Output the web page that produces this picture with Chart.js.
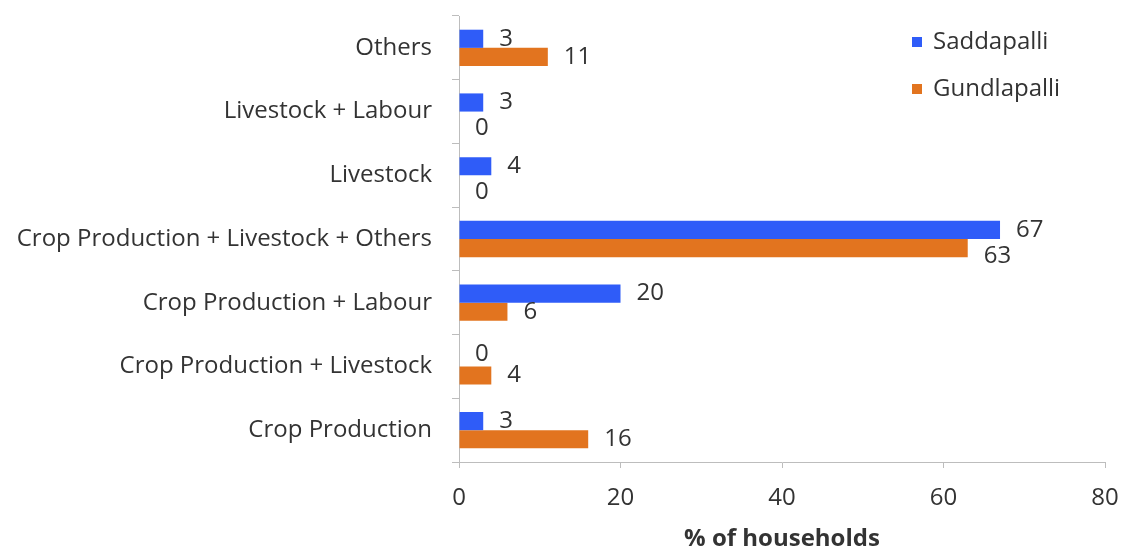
<!DOCTYPE html>
<html><head><meta charset="utf-8">
<script src="https://cdn.jsdelivr.net/npm/chart.js@4.4.0/dist/chart.umd.min.js"></script>
<style>html,body{margin:0;padding:0;background:#fff}#wrap{width:1121px;height:550px}</style>
</head><body><div id="wrap"><canvas id="c" width="1121" height="550"></canvas></div>
<script>
const categories = ["Others","Livestock + Labour","Livestock","Crop Production + Livestock + Others","Crop Production + Labour","Crop Production + Livestock","Crop Production"];
const saddapalli = [3,3,4,67,20,0,3];
const gundlapalli = [11,0,0,63,6,4,16];
const xTicks = [0,20,40,60,80];
const seriesNames = ["Saddapalli","Gundlapalli"];
const axisTitle = "% of households";

const FONT = "'Open Sans', sans-serif";
const FS = 24;
const TXT = "#333333";
const BLUE = "#2f5cf8";
const ORANGE = "#e2741f";

function orangeGrad(ctx){
  const c = ctx.chart;
  const el = ctx.element;
  if(!el || !c.chartArea) return ORANGE;
  const y = el.y, h = el.height;
  if(!Number.isFinite(y) || !Number.isFinite(h) || h <= 0) return ORANGE;
  const g = c.ctx.createLinearGradient(0, y - h/2, 0, y + h/2);
  g.addColorStop(0, "#ee8a35");
  g.addColorStop(0.5, "#e2741f");
  g.addColorStop(1, "#b95d17");
  return g;
}

// value labels with simple collision avoidance (like Excel's label placement)
const labelPlugin = {
  id:'vals',
  afterDatasetsDraw(chart){
    const ctx = chart.ctx;
    ctx.save();
    ctx.font = FS + "px " + FONT;
    ctx.fillStyle = TXT;
    ctx.textAlign = 'left';
    ctx.textBaseline = 'middle';
    const m0 = chart.getDatasetMeta(0), m1 = chart.getDatasetMeta(1);
    const d0 = chart.data.datasets[0].data, d1 = chart.data.datasets[1].data;
    const MIN_SEP = 26;
    for(let i = 0; i < categories.length; i++){
      const e0 = m0.data[i], e1 = m1.data[i];
      const t0 = String(d0[i]), t1 = String(d1[i]);
      const x0 = e0.x + 16, x1 = e1.x + 16;
      let y0 = e0.y, y1 = e1.y;
      const w0 = ctx.measureText(t0).width, w1 = ctx.measureText(t1).width;
      const hOverlap = x0 < x1 + w1 + 20 && x1 < x0 + w0 + 20;
      if(hOverlap && (y1 - y0) < MIN_SEP){
        const need = MIN_SEP - (y1 - y0);
        if(d0[i] === 0 && d1[i] !== 0) y0 -= need * 0.4;
        else y1 += need;
      }
      ctx.fillText(t0, x0, y0);
      ctx.fillText(t1, x1, y1);
    }
    ctx.restore();
  }
};

const legendPlugin = {
  id:'customLegend',
  afterDraw(chart){
    const ctx = chart.ctx;
    ctx.save();
    ctx.font = FS + "px " + FONT;
    ctx.textBaseline = 'middle';
    ctx.textAlign = 'left';
    chart.data.datasets.forEach((ds, di) => {
      const y = 42 + di * 47;
      ctx.fillStyle = di === 0 ? BLUE : ORANGE;
      ctx.fillRect(912, y - 5, 10, 10);
      ctx.fillStyle = TXT;
      ctx.fillText(ds.label, 933, y);
    });
    ctx.restore();
  }
};

new Chart(document.getElementById('c'), {
  type:'bar',
  data:{
    labels: categories,
    datasets:[
      {label: seriesNames[0], data: saddapalli, backgroundColor: BLUE, barPercentage:1, categoryPercentage:0.57},
      {label: seriesNames[1], data: gundlapalli, backgroundColor: orangeGrad, barPercentage:1, categoryPercentage:0.57}
    ]
  },
  options:{
    indexAxis:'y',
    responsive:false,
    animation:false,
    devicePixelRatio:1,
    layout:{padding:{top:16,right:16,left:0,bottom:0}},
    plugins:{legend:{display:false}, tooltip:{enabled:false}},
    scales:{
      x:{
        min:0, max:80,
        afterBuildTicks(s){ s.ticks = xTicks.map(v=>({value:v})); },
        afterFit(s){ s.height = 88; s.paddingLeft = 0; s.paddingRight = 0; },
        grid:{drawOnChartArea:false, drawTicks:true, tickLength:6, color:'#bdbdbd'},
        border:{color:'#bdbdbd'},
        ticks:{color:TXT, font:{family:FONT, size:FS}, padding:16},
        title:{display:true, text:axisTitle, color:TXT, font:{family:FONT, size:FS, weight:'bold'}, padding:{top:8, bottom:-4}}
      },
      y:{
        afterFit(s){ s.width = 459; s.paddingTop = 0; s.paddingBottom = 0; },
        grid:{drawOnChartArea:false, drawTicks:true, tickLength:7, color:'#bdbdbd', offset:true},
        border:{color:'#bdbdbd'},
        ticks:{color:TXT, font:{family:FONT, size:FS}, padding:20}
      }
    }
  },
  plugins:[labelPlugin, legendPlugin]
});
</script>
</body></html>
